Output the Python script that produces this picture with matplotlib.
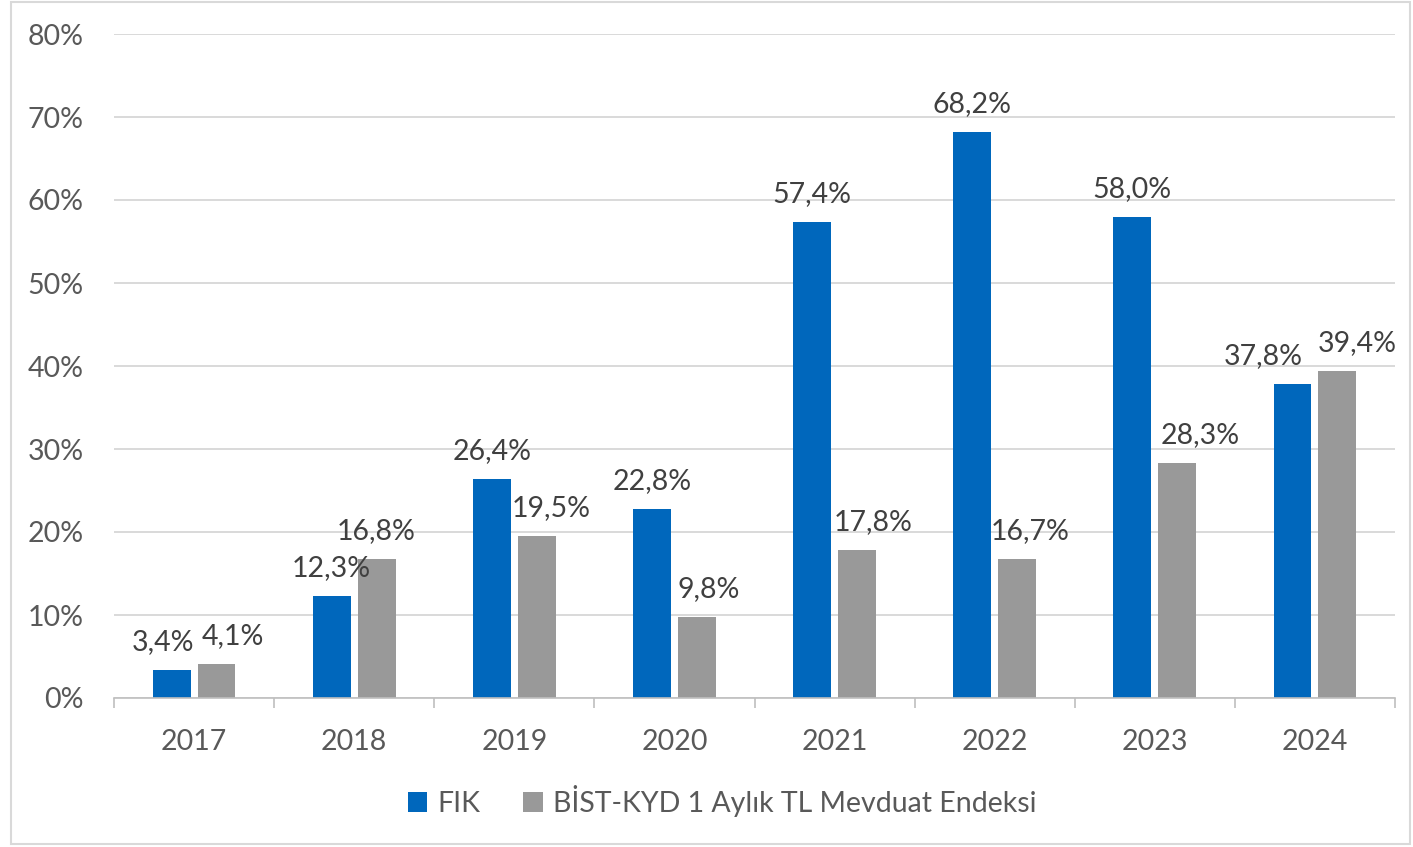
import matplotlib.pyplot as plt
import matplotlib.patches as mpatches
import numpy as np

# ------------------------------------------------------------------------------------------
# Data
# ------------------------------------------------------------------------------------------
years = ["2017", "2018", "2019", "2020", "2021", "2022", "2023", "2024"]
fik = [3.4, 12.3, 26.4, 22.8, 57.4, 68.2, 58.0, 37.8]
mevduat = [4.1, 16.8, 19.5, 9.8, 17.8, 16.7, 28.3, 39.4]
series_names = ["FIK", "BİST-KYD 1 Aylık TL Mevduat Endeksi"]

# label nudges in pixels (dx), as placed in the original
fik_dx = [-9, 0, 0, 0, 0, 0, 0, -29]
mev_dx = [16, 0, 14, 12, 16, 13, 23, 20]

blue = "#0067BC"
gray = "#999999"
txt = "#595959"
fs = 20.5

plt.rcParams["font.family"] = ["Lato", "DejaVu Sans"]

fig = plt.figure(figsize=(14.13, 8.47), dpi=100)
ax = fig.add_axes([114 / 1413, 1 - 698 / 847, (1395 - 114) / 1413, (698 - 34) / 847])

x = np.arange(len(years))
w = 0.237
off = 0.14
b1 = ax.bar(x - off, fik, w, color=blue, zorder=3)
b2 = ax.bar(x + off, mevduat, w, color=gray, zorder=3)


def fmt(v):
    return f"{v:.1f}%".replace(".", ",")


for xi, v, dx in zip(x, fik, fik_dx):
    ax.annotate(fmt(v), (xi - off, v), xytext=(dx, 28), textcoords="offset pixels",
                ha="center", va="center", fontsize=fs, color="#404040")
for xi, v, dx in zip(x, mevduat, mev_dx):
    ax.annotate(fmt(v), (xi + off, v), xytext=(dx, 28), textcoords="offset pixels",
                ha="center", va="center", fontsize=fs, color="#404040")

ax.set_xlim(-0.5, len(years) - 0.5)
ax.set_ylim(0, 80)
ax.set_yticks(np.arange(0, 81, 10))
ax.set_yticklabels([f"{v}%" for v in range(0, 81, 10)])
ax.set_xticks(x)
ax.set_xticklabels(years)
ax.set_xticks(np.arange(-0.5, len(years)), minor=True)
ax.tick_params(axis="x", which="major", length=0, pad=22, labelsize=fs, labelcolor=txt)
ax.tick_params(axis="x", which="minor", length=7, width=1.2, color="#BFBFBF")
ax.tick_params(axis="y", length=0, pad=22, labelsize=fs, labelcolor=txt)

ax.grid(axis="y", color="#D9D9D9", linewidth=1.4, zorder=0)
for s in ["top", "right", "left"]:
    ax.spines[s].set_visible(False)
ax.spines["bottom"].set_color("#BFBFBF")
ax.spines["bottom"].set_linewidth(1.2)
ax.spines["bottom"].set_zorder(4)

fig.legend([b1, b2], series_names, loc="center", bbox_to_anchor=(722 / 1413, 1 - 801 / 847),
           ncol=2, frameon=False, fontsize=fs, labelcolor=txt,
           handlelength=0.7, handleheight=0.7, handletextpad=0.35, columnspacing=1.5)

fig.add_artist(mpatches.Rectangle((11 / 1413, 3 / 847), 1399 / 1413, 842 / 847,
                                  transform=fig.transFigure, fill=False,
                                  edgecolor="#D9D9D9", linewidth=1.5))

fig.savefig("out.png", dpi=100)
